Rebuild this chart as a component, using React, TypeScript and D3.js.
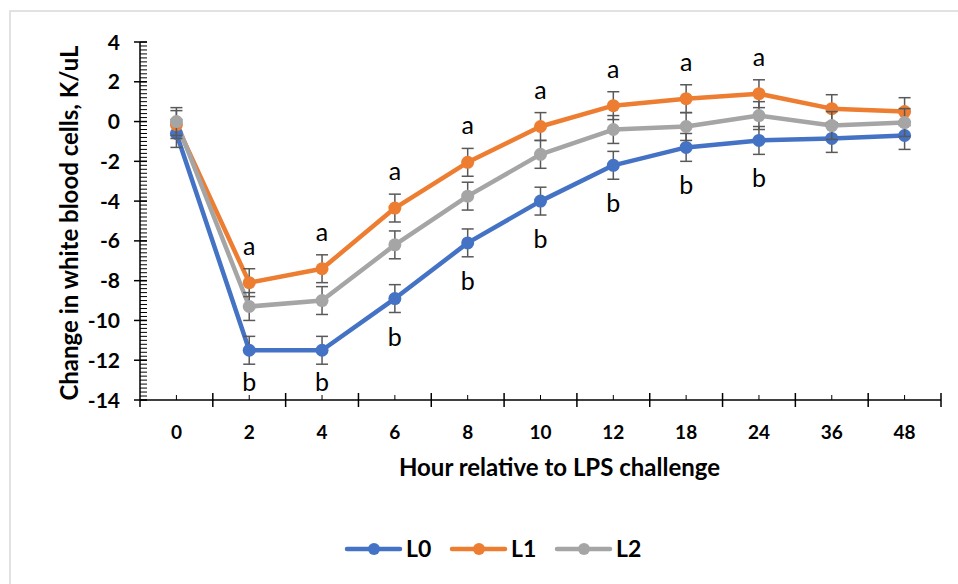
import React from "react";
import * as d3 from "d3";

const hours = ["0", "2", "4", "6", "8", "10", "12", "18", "24", "36", "48"];
const L0 = [-0.6, -11.5, -11.5, -8.9, -6.1, -4.0, -2.2, -1.3, -0.95, -0.85, -0.7];
const L1 = [-0.15, -8.1, -7.4, -4.35, -2.05, -0.25, 0.8, 1.15, 1.4, 0.65, 0.5];
const L2 = [0.0, -9.3, -9.0, -6.2, -3.75, -1.65, -0.4, -0.25, 0.3, -0.2, -0.05];
const L0err = [0.7, 0.7, 0.7, 0.7, 0.7, 0.7, 0.7, 0.7, 0.7, 0.7, 0.7];
const L1err = [0.7, 0.7, 0.7, 0.7, 0.7, 0.7, 0.7, 0.7, 0.7, 0.7, 0.7];
const L2err = [0.7, 0.7, 0.7, 0.7, 0.7, 0.7, 0.7, 0.7, 0.7, 0.7, 0.7];
const lettersA = ["", "a", "a", "a", "a", "a", "a", "a", "a", "", ""];
const lettersB = ["", "b", "b", "b", "b", "b", "b", "b", "b", "", ""];
const yTicks = [4, 2, 0, -2, -4, -6, -8, -10, -12, -14];

const series = [
  { name: "L0", values: L0, err: L0err, color: "#4472C4" },
  { name: "L1", values: L1, err: L1err, color: "#ED7D31" },
  { name: "L2", values: L2, err: L2err, color: "#A5A5A5" },
];

const FONT = "Lato, 'Open Sans', sans-serif";

export default function App() {
  const W = 958, H = 584;
  const left = 140, right = 941, top = 42, bottom = 400;
  const x = d3.scaleBand().domain(hours).range([left, right]);
  const y = d3.scaleLinear().domain([-14, 4]).range([bottom, top]);
  const cx = (i: number) => (x(hours[i]) as number) + x.bandwidth() / 2;
  const line = d3.line<number>().x((_, i) => cx(i)).y((v) => y(v));
  const minor = d3.range(-14, 4.001, 0.2).map((v) => Math.round(v * 10) / 10);

  return (
    <svg width={W} height={H} style={{ position: "absolute", left: 0, top: 0, background: "#fff" }}>
      <rect x={10} y={11} width={W} height={H} fill="#fff" stroke="#d9d9d9" strokeWidth={1.5} />
      {/* y axis */}
      <line x1={left} x2={left} y1={top} y2={bottom} stroke="#000" strokeWidth={1.5} />
      {minor.map((v) => (
        <line key={"m" + v} x1={left} x2={left + 7} y1={y(v)} y2={y(v)} stroke="#000" strokeWidth={1} />
      ))}
      {yTicks.map((v) => (
        <g key={"t" + v}>
          <line x1={left - 6} x2={left + 7} y1={y(v)} y2={y(v)} stroke="#000" strokeWidth={1.5} />
          <text x={left - 20} y={y(v)} dy="0.36em" textAnchor="end" fontFamily={FONT} fontWeight={700} fontSize={21}>
            {v}
          </text>
        </g>
      ))}
      {/* x axis */}
      <line x1={left} x2={right} y1={bottom} y2={bottom} stroke="#000" strokeWidth={1.5} />
      {hours.map((h, i) => (
        <g key={"x" + h}>
          <line x1={(x(h) as number) + x.bandwidth()} x2={(x(h) as number) + x.bandwidth()} y1={bottom - 7} y2={bottom + 7} stroke="#000" strokeWidth={1.5} />
          <line x1={cx(i)} x2={cx(i)} y1={bottom - 5} y2={bottom} stroke="#000" strokeWidth={1} />
          <text x={cx(i)} y={bottom + 39} textAnchor="middle" fontFamily={FONT} fontWeight={700} fontSize={19}>
            {h}
          </text>
        </g>
      ))}
      <line x1={left} x2={left} y1={bottom} y2={bottom + 7} stroke="#000" strokeWidth={1.5} />
      {/* lines */}
      {series.map((s) => (
        <path key={"l" + s.name} d={line(s.values) as string} fill="none" stroke={s.color} strokeWidth={4.5} strokeLinejoin="round" />
      ))}
      {/* error bars and markers */}
      {series.map((s) => (
        <g key={"p" + s.name}>
          {s.values.map((v, i) => (
            <g key={i}>
              <line x1={cx(i)} x2={cx(i)} y1={y(v - s.err[i])} y2={y(v + s.err[i])} stroke="#595959" strokeWidth={1.5} />
              <line x1={cx(i) - 6} x2={cx(i) + 6} y1={y(v + s.err[i])} y2={y(v + s.err[i])} stroke="#595959" strokeWidth={1.5} />
              <line x1={cx(i) - 6} x2={cx(i) + 6} y1={y(v - s.err[i])} y2={y(v - s.err[i])} stroke="#595959" strokeWidth={1.5} />
              <circle cx={cx(i)} cy={y(v)} r={6.5} fill={s.color} />
            </g>
          ))}
        </g>
      ))}
      {/* significance letters */}
      {lettersA.map((t, i) =>
        t ? (
          <text key={"a" + i} x={cx(i)} y={y(L1[i]) - 28} textAnchor="middle" fontFamily={FONT} fontSize={25}>
            {t}
          </text>
        ) : null
      )}
      {lettersB.map((t, i) =>
        t ? (
          <text key={"b" + i} x={cx(i)} y={Math.min(y(L0[i]) + 47, bottom - 9)} textAnchor="middle" fontFamily={FONT} fontSize={25}>
            {t}
          </text>
        ) : null
      )}
      {/* axis titles */}
      <text transform={`translate(78,${(top + bottom) / 2 + 2}) rotate(-90)`} textAnchor="middle" fontFamily={FONT} fontWeight={700} fontSize={24}>
        Change in white blood cells, K/uL
      </text>
      <text x={(left + right) / 2 + 19} y={476} textAnchor="middle" fontFamily={FONT} fontWeight={700} fontSize={24}>
        Hour relative to LPS challenge
      </text>
      {/* legend */}
      {series.map((s, k) => {
        const lx = 347 + k * 105;
        return (
          <g key={"lg" + s.name}>
            <line x1={lx} x2={lx + 53} y1={549} y2={549} stroke={s.color} strokeWidth={4.5} strokeLinecap="round" />
            <circle cx={lx + 27} cy={549} r={6} fill={s.color} />
            <text x={lx + 59} y={549} dy="0.36em" fontFamily={FONT} fontWeight={700} fontSize={23}>
              {s.name}
            </text>
          </g>
        );
      })}
    </svg>
  );
}
